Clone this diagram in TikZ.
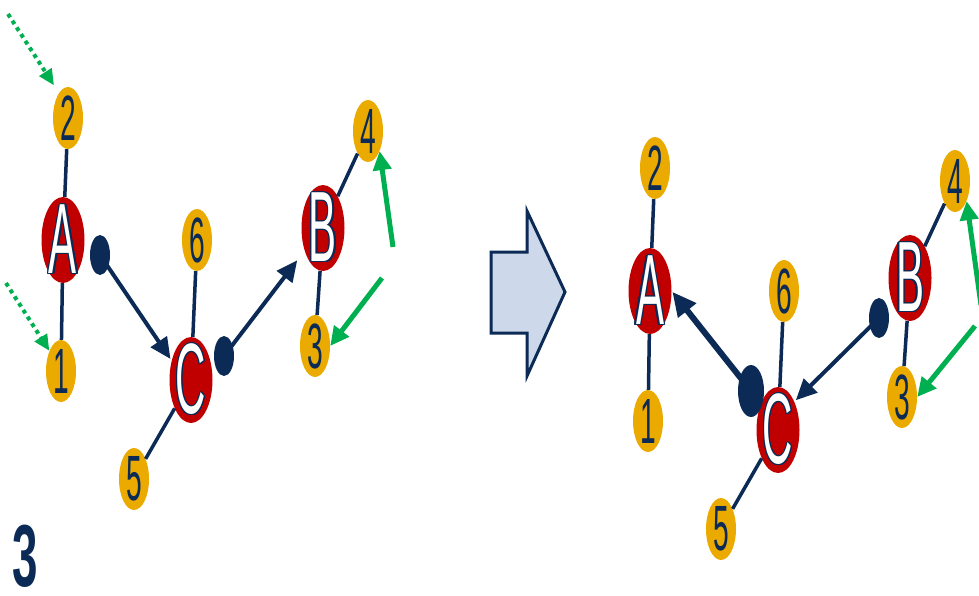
\documentclass[tikz,border=0pt]{standalone}
\usepackage{fontspec}
\setmainfont{Liberation Sans}
\usepackage{contour}
\usetikzlibrary{shapes.geometric,arrows.meta}

\definecolor{azul}{HTML}{0B2A55}
\definecolor{ouro}{HTML}{EBAA00}
\definecolor{vermelho}{HTML}{C00000}
\definecolor{verde}{HTML}{00B050}
\definecolor{cinzaazul}{HTML}{CDD9EA}
\contourlength{1.1pt}
\newcommand{\estreito}[2][0.44]{\scalebox{#1}[1]{#2}}

\begin{document}
\begin{tikzpicture}[x=1pt, y=-1pt,
    num/.style={ellipse, fill=ouro, inner sep=0pt, minimum width=30pt, minimum height=62pt,
      label={[text=azul, font=\fontsize{64}{64}\selectfont, inner sep=0pt]center:\estreito{#1}}},
    letra/.style={ellipse, fill=vermelho, inner sep=0pt, minimum width=43pt, minimum height=86pt,
      label={[text=white, font=\fontsize{100}{100}\selectfont, inner sep=0pt]center:\contour{azul}{\estreito[0.42]{#1}}}},
    ponto/.style={ellipse, fill=azul, inner sep=0pt, minimum width=20pt, minimum height=40pt},
    liga/.style={azul, line width=3.5pt},
    seta/.style={azul, line width=4pt, -{Triangle[length=21pt, width=19pt]}},
    verdeseta/.style={verde, line width=5pt, -{Triangle[length=19pt, width=18pt]}},
    pontilhada/.style={verde, line width=4pt, dash pattern=on 4pt off 4pt, -{Triangle[length=16pt, width=14pt]}}]
        \useasboundingbox (0,0) rectangle (979,596);

        % Lado esquerdo: atomos
        \foreach \n/\x/\y in {1/61/371, 2/68/118, 3/315/346, 4/368/131, 5/134/479, 6/197/240} {
            \node[num=\n] (e\n) at (\x,\y) {};
        }
        \node[letra=A] (eA) at (63,240) {};
        \node[letra=B] (eB) at (323,228) {};
        \node[letra=C] (eC) at (191,380) {};
        \node[ponto] (pA) at (100,255) {};
        \node[ponto] (pC) at (224,356) {};

        % Ligacoes
        \draw[liga] (e2) -- (eA);
        \draw[liga] (eA) -- (e1);
        \draw[liga] (e6) -- (eC);
        \draw[liga] (eC) -- (e5);
        \draw[liga] (eB) -- (e4);
        \draw[liga] (eB) -- (e3);

        % Setas de deslocamento
        \draw[seta, shorten >=2pt] (pA.center) -- (eC.135);
        \draw[seta, shorten >=12pt] (pC.center) -- (eB.231);

        % Setas verdes
        \coordinate (g1) at (8,14);
        \coordinate (g2) at (6,283);
        \coordinate (g3) at (393,247);
        \coordinate (g4) at (382,278);
        \draw[pontilhada, shorten >=9pt] (g1) -- (e2.110);
        \draw[pontilhada] (g2) -- (e1.120);
        \draw[verdeseta] (g3) -- (e4.-60);
        \draw[verdeseta] (g4) -- (e3.east);

        % Numero da etapa
        \node[text=azul, font=\bfseries\fontsize{88}{88}\selectfont] (etapa) at (25,556) {\estreito[0.52]{3}};

        % Seta de transicao
        \draw[azul, fill=cinzaazul, line width=3pt, line join=miter]
            (491,252) -- (527,252) -- (527,211) -- (565,292) -- (527,376) -- (527,333) -- (491,333) -- cycle;

        % Lado direito: atomos
        \foreach \n/\x/\y in {1/648/421, 2/655/168, 3/902/397, 4/955/181, 5/721/529, 6/784/291} {
            \node[num=\n] (d\n) at (\x,\y) {};
        }
        \node[letra=A] (dA) at (650,291) {};
        \node[letra=B] (dB) at (910,278) {};
        \node[letra=C] (dC) at (778,430) {};
        \node[ponto, minimum width=26pt, minimum height=52pt] (qC) at (751,391) {};
        \node[ponto] (qB) at (879,318) {};

        % Ligacoes
        \draw[liga] (d2) -- (dA);
        \draw[liga] (dA) -- (d1);
        \draw[liga] (d6) -- (dC);
        \draw[liga] (dC) -- (d5);
        \draw[liga] (dB) -- (d4);
        \draw[liga] (dB) -- (d3);

        % Setas de deslocamento
        \draw[seta, line width=6pt, -{Triangle[length=24pt, width=22pt]}, shorten >=1pt] (qC.center) -- (dA.east);
        \draw[seta, shorten >=2pt] (qB.center) -- (dC.60);

        % Setas verdes
        \coordinate (h1) at (981,305);
        \coordinate (h2) at (975,326);
        \draw[verdeseta] (h1) -- (d4.-60);
        \draw[verdeseta] (h2) -- (d3.east);
    \end{tikzpicture}
\end{document}
